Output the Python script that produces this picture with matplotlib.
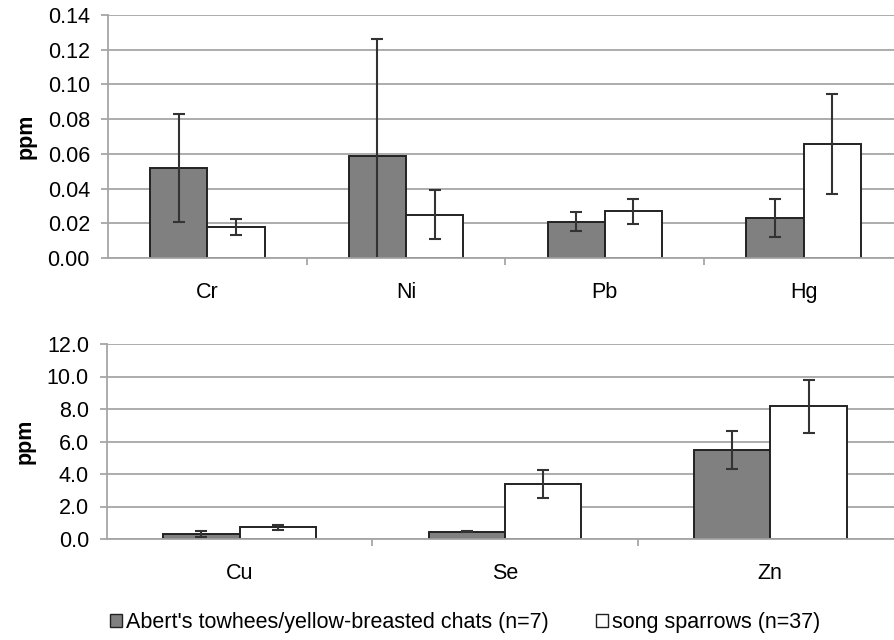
import numpy as np
import matplotlib.pyplot as plt
from matplotlib.patches import Patch

plt.rcParams['font.family'] = ['Liberation Sans', 'DejaVu Sans']

# Top panel (trace metals)
top_labels = ['Cr', 'Ni', 'Pb', 'Hg']
top_chats = [0.052, 0.059, 0.021, 0.023]
top_chats_err = [0.031, 0.067, 0.0055, 0.011]
top_sparrows = [0.018, 0.025, 0.027, 0.0657]
top_sparrows_err = [0.0045, 0.014, 0.0072, 0.029]

# Bottom panel
bot_labels = ['Cu', 'Se', 'Zn']
bot_chats = [0.31, 0.45, 5.48]
bot_chats_err = [0.18, 0.04, 1.16]
bot_sparrows = [0.71, 3.36, 8.18]
bot_sparrows_err = [0.16, 0.86, 1.63]

top_ticks = [0.0, 0.02, 0.04, 0.06, 0.08, 0.10, 0.12, 0.14]
bot_ticks = [0.0, 2.0, 4.0, 6.0, 8.0, 10.0, 12.0]

series_names = ["Abert's towhees/yellow-breasted chats (n=7)", "song sparrows (n=37)"]
gray = '#808080'
grid_c = '#a6a6a6'
fs = 15.5

bar_width = 0.288

fig = plt.figure(figsize=(8.95, 6.4), dpi=100)
ax1 = fig.add_axes([108/895, 382/640, 787/895, 243/640])
ax2 = fig.add_axes([107/895, 101/640, 788/895, 195/640])


def draw(ax, labels, d1, e1, d2, e2, ticks, fmt, xmax):
    x = np.arange(len(labels))
    ax.set_axisbelow(True)
    ax.bar(x - bar_width/2, d1, bar_width, color=gray, edgecolor='#222222', linewidth=1.4,
           yerr=e1, error_kw=dict(ecolor='#333333', elinewidth=1.5, capsize=4, capthick=1.5))
    ax.bar(x + bar_width/2, d2, bar_width, color='white', edgecolor='#222222', linewidth=1.4,
           yerr=e2, error_kw=dict(ecolor='#333333', elinewidth=1.5, capsize=4, capthick=1.5))
    ax.set_ylim(ticks[0], ticks[-1])
    ax.set_xlim(-0.5, xmax)
    ax.set_yticks(ticks)
    ax.set_yticklabels([fmt.format(t) for t in ticks], fontsize=fs)
    ax.yaxis.grid(True, color=grid_c, linewidth=1.3)
    ax.set_xticks(np.arange(len(labels) - 1) + 0.5)
    ax.set_xticklabels([])
    ax.set_xticks(x, minor=True)
    ax.set_xticklabels(labels, minor=True, fontsize=fs)
    ax.tick_params(axis='x', which='major', length=5, color=grid_c, width=1.3)
    ax.tick_params(axis='x', which='minor', length=0, pad=17)
    ax.tick_params(axis='y', length=5, color=grid_c, width=1.3, pad=8)
    for s in ['top', 'right']:
        ax.spines[s].set_visible(False)
    for s in ['left', 'bottom']:
        ax.spines[s].set_color(grid_c)
        ax.spines[s].set_linewidth(1.3)
    ax.set_ylabel('ppm', fontsize=fs, fontweight='bold', labelpad=8)


draw(ax1, top_labels, top_chats, top_chats_err, top_sparrows, top_sparrows_err,
     top_ticks, '{:.2f}', 3.46)
draw(ax2, bot_labels, bot_chats, bot_chats_err, bot_sparrows, bot_sparrows_err,
     bot_ticks, '{:.1f}', 2.47)

handles = [Patch(facecolor=gray, edgecolor='#222222', linewidth=1.0, label=series_names[0]),
           Patch(facecolor='white', edgecolor='#222222', linewidth=1.0, label=series_names[1])]
fig.legend(handles=handles, loc='center', bbox_to_anchor=(0.52, 0.027), ncol=2, frameon=False,
           fontsize=fs, handlelength=0.55, handleheight=0.55, handletextpad=0.2, columnspacing=2.2)

fig.savefig('out.png', dpi=100)
